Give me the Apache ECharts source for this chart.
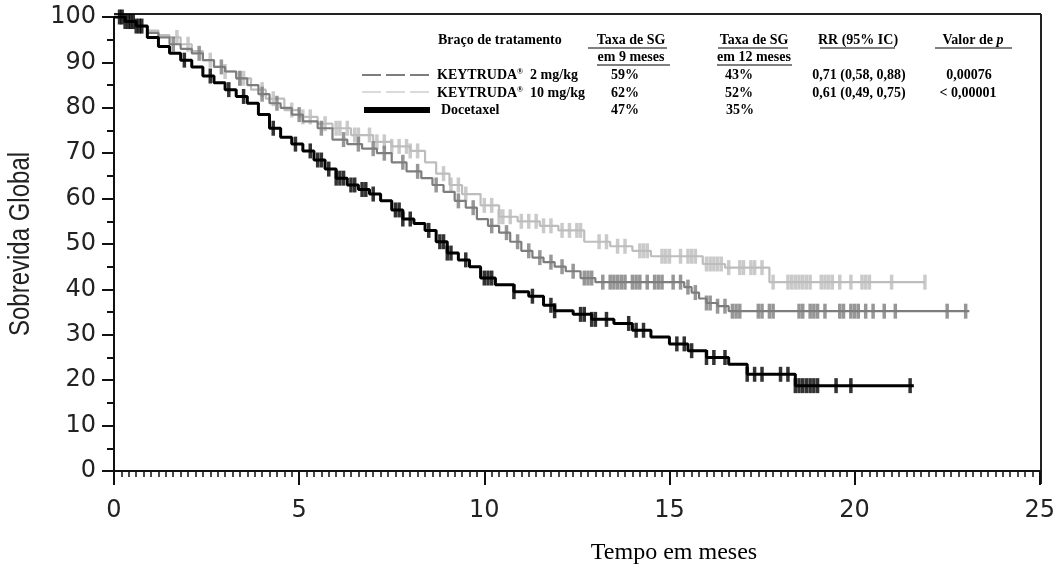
<!DOCTYPE html>
<html><head><meta charset="utf-8">
<script src="https://cdn.jsdelivr.net/npm/echarts/dist/echarts.min.js"></script>
<style>html,body{margin:0;padding:0;background:#fff}#c{width:1058px;height:572px}</style>
</head><body><div id="c"></div>
<script>
// ---------- data ----------
const xTickValues = [0, 5, 10, 15, 20, 25];
const yTickValues = [0, 10, 20, 30, 40, 50, 60, 70, 80, 90, 100];
const xTitle = 'Tempo em meses';
const yTitle = 'Sobrevida Global';

// Docetaxel
const docTimes = [0, 0.3, 0.6, 0.9, 1.2, 1.5, 1.8, 2.1, 2.4, 2.7, 3.0, 3.3, 3.6, 3.9, 4.2, 4.5, 4.8, 5.1, 5.4, 5.7, 6.0, 6.3, 6.6, 6.9, 7.2, 7.5, 7.8, 8.1, 8.4, 8.7, 9.0, 9.3, 9.6, 9.9, 10.3, 10.8, 11.2, 11.6, 11.9, 12.4, 12.9, 13.5, 14.0, 14.5, 15.0, 15.5, 16.0, 16.6, 17.1, 18.4, 21.6];
const docSurv  = [100, 99, 98, 95.5, 93.5, 92, 90.5, 89, 87, 85.5, 84, 82.5, 81, 78.5, 75.5, 73.5, 72, 70.5, 68.5, 66.5, 64.5, 63, 62, 61, 59.5, 57.5, 55.5, 54.5, 53, 50.5, 48, 46.5, 45, 42.5, 41, 39.5, 38.5, 36.5, 35.3, 34.5, 33.4, 32.5, 31, 29.5, 28, 26.5, 25, 23.5, 21.3, 18.8, 18.8];
const docCensor = [0.15, 0.22, 0.3, 0.38, 0.45, 0.52, 0.6, 0.68, 0.75, 1.9, 2.6, 3.1, 3.5, 4.3, 4.9, 5.3, 5.5, 5.6, 5.8, 6.0, 6.1, 6.2, 6.4, 6.5, 6.7, 6.8, 7.0, 7.6, 7.7, 7.8, 8.0, 8.5, 8.8, 8.9, 9.0, 9.1, 9.5, 10.0, 10.1, 10.2, 10.8, 11.3, 11.8, 11.9, 12.6, 12.7, 12.9, 13.0, 13.3, 13.9, 14.1, 14.3, 15.2, 15.4, 15.6, 16.0, 16.2, 16.5, 17.1, 17.3, 17.5, 18.0, 18.2, 18.4, 18.5, 18.6, 18.7, 18.8, 18.9, 19.0, 19.5, 19.9, 21.5];

// KEYTRUDA 2 mg/kg
const p2Times = [0, 0.3, 0.6, 0.9, 1.2, 1.5, 1.8, 2.1, 2.4, 2.7, 3.0, 3.3, 3.6, 3.9, 4.2, 4.5, 4.8, 5.1, 5.5, 5.9, 6.3, 6.7, 7.1, 7.5, 7.9, 8.3, 8.6, 8.9, 9.2, 9.5, 9.8, 10.1, 10.4, 10.7, 11.0, 11.3, 11.6, 11.9, 12.2, 12.6, 13.0, 15.4, 15.6, 15.8, 16.0, 16.3, 16.6, 23.1];
const p2Surv  = [100, 99, 98, 96.5, 95.5, 94, 93, 92, 90.5, 89, 88, 86.5, 85, 83, 81, 80, 78.5, 77, 75.5, 73, 72, 71, 70, 68, 66, 64.5, 63, 61.5, 59.5, 58, 55.5, 54, 52.5, 50.5, 48.5, 47, 46, 45, 44, 42.5, 41.6, 40.5, 39.3, 38, 37, 36.3, 35.2, 35.2];
const p2Censor = [1.6, 2.3, 2.9, 3.4, 4.0, 4.4, 5.0, 5.6, 6.2, 6.6, 7.0, 7.3, 7.8, 8.2, 8.7, 9.3, 9.7, 10.2, 10.6, 10.9, 11.2, 11.5, 11.8, 12.1, 12.4, 12.7, 12.8, 12.9, 13.2, 13.4, 13.5, 13.6, 13.7, 13.8, 14.0, 14.1, 14.2, 14.4, 14.6, 14.7, 14.8, 15.1, 15.3, 15.5, 15.7, 16.0, 16.1, 16.3, 16.5, 16.7, 16.8, 16.9, 17.4, 17.5, 17.7, 17.8, 18.5, 18.6, 18.8, 18.9, 19.0, 19.2, 19.6, 19.7, 19.9, 20.0, 20.1, 20.3, 20.5, 20.8, 21.1, 22.5, 23.0];

// KEYTRUDA 10 mg/kg
const p10Times = [0, 0.3, 0.6, 0.9, 1.2, 1.5, 1.8, 2.1, 2.4, 2.7, 3.0, 3.3, 3.7, 4.1, 4.6, 5.0, 5.5, 5.9, 6.4, 7.0, 7.5, 8.0, 8.4, 8.7, 9.06, 9.4, 9.9, 10.4, 10.9, 11.5, 12.0, 12.7, 13.4, 14.0, 14.5, 15.9, 16.5, 17.7, 21.9];
const p10Surv  = [100, 99, 98, 97, 96, 95.5, 94, 92.5, 90.5, 89, 88, 86.5, 84, 82, 79.5, 78, 76.5, 75.5, 74, 72.5, 71.5, 70.5, 68, 65.5, 63, 61, 58.5, 56, 55, 54, 53, 50.5, 49.5, 48.5, 47.3, 45.6, 44.8, 41.6, 41.6];
const p10Censor = [1.7, 2.0, 2.6, 3.0, 3.4, 3.5, 4.0, 4.3, 4.8, 5.1, 5.3, 5.7, 6.0, 6.1, 6.3, 6.5, 6.6, 6.9, 7.1, 7.3, 7.5, 7.7, 7.9, 8.0, 8.2, 8.9, 9.1, 9.3, 9.5, 10.0, 10.2, 10.4, 10.5, 10.7, 11.0, 11.2, 11.4, 11.6, 11.8, 12.1, 12.3, 12.5, 12.6, 13.1, 13.3, 13.6, 13.8, 14.2, 14.3, 14.4, 14.8, 14.9, 15.0, 15.3, 15.5, 15.6, 15.7, 16.0, 16.1, 16.2, 16.3, 16.4, 16.6, 16.9, 17.0, 17.2, 17.3, 17.5, 17.8, 18.2, 18.3, 18.4, 18.5, 18.6, 18.7, 18.8, 19.1, 19.2, 19.3, 19.4, 19.6, 19.9, 20.2, 20.3, 20.4, 21.0, 21.9];

// legend table
const tableHeader1 = ['Braço de tratamento', 'Taxa de SG', 'Taxa de SG', 'RR (95% IC)', 'Valor de '];
const tableHeader2 = ['em 9 meses', 'em 12 meses'];
const armNames = ['KEYTRUDA{s|®}  2 mg/kg', 'KEYTRUDA{s|®}  10 mg/kg', 'Docetaxel'];
const os9 = ['59%', '62%', '47%'];
const os12 = ['43%', '52%', '35%'];
const hrCI = ['0,71 (0,58, 0,88)', '0,61 (0,49, 0,75)', ''];
const pValues = ['0,00076', '< 0,00001', ''];

// ---------- helpers ----------
function stepPairs(times, surv) { return times.map((t, i) => [t, surv[i]]); }
function survAt(times, surv, t) {
  let v = surv[0];
  for (let i = 0; i < times.length; i++) { if (times[i] <= t) v = surv[i]; else break; }
  return v;
}
function censorPairs(times, surv, cens) { return cens.map(t => [t, survAt(times, surv, t)]); }

const cLight = '#bdbdbd', cMid = '#7d7d7d', cBlack = '#000000';

// ---------- graphic (table, titles, frame) ----------
const serif = 'Liberation Serif';
function T(x, y, text, align) {
  return {
    type: 'text', x: x, y: y, silent: true,
    style: { text: text, fontFamily: serif, fontWeight: 'bold', fontSize: 14, fill: '#000', align: align || 'left', verticalAlign: 'middle',
      rich: {
        s: { fontFamily: serif, fontWeight: 'bold', fontSize: 8, verticalAlign: 'top', padding: [0, 0, 6, 0] },
        i: { fontFamily: serif, fontWeight: 'bold', fontStyle: 'italic', fontSize: 14 }
      } }
  };
}
function L(x1, y1, x2, y2, stroke, w, dash) {
  return { type: 'line', silent: true, shape: { x1: x1, y1: y1, x2: x2, y2: y2 }, style: { stroke: stroke, lineWidth: w, lineDash: dash || null } };
}
const rowY = [75, 93, 110];
const graphic = [];
graphic.push(T(438, 40, tableHeader1[0], 'left'));
graphic.push(T(631, 40, tableHeader1[1], 'center'));
graphic.push(T(754, 40, tableHeader1[2], 'center'));
graphic.push(T(858, 40, tableHeader1[3], 'center'));
graphic.push(T(973, 40, tableHeader1[4] + '{i|p}', 'center'));
graphic.push(T(631, 57, tableHeader2[0], 'center'));
graphic.push(T(754, 57, tableHeader2[1], 'center'));
// underlines
graphic.push(L(588, 48, 667, 48, '#000', 1));
graphic.push(L(597, 65, 670, 65, '#000', 1));
graphic.push(L(718, 48, 788, 48, '#000', 1));
graphic.push(L(717, 65, 792, 65, '#000', 1));
graphic.push(L(820, 48, 895, 48, '#000', 1));
graphic.push(L(935, 48, 1012, 48, '#000', 1));
for (let r = 0; r < 3; r++) {
  graphic.push(T(r === 2 ? 441 : 437, rowY[r], armNames[r], 'left'));
  graphic.push(T(625, rowY[r], os9[r], 'center'));
  graphic.push(T(r === 2 ? 740 : 739, rowY[r], os12[r], 'center'));
  if (hrCI[r]) graphic.push(T(859, rowY[r], hrCI[r], 'center'));
  if (pValues[r]) graphic.push(T(r === 1 ? 968 : 969, rowY[r], pValues[r], 'center'));
}
graphic.push(L(362, 75, 430, 75, cMid, 2.2, [19, 5]));
graphic.push(L(362, 92, 430, 92, '#cfcfcf', 1.6, [19, 5]));
graphic.push(L(364, 110, 430, 110, cBlack, 6));
// titles
graphic.push({ type: 'text', x: 674, y: 553, silent: true,
  style: { text: xTitle, fontFamily: serif, fontSize: 24, fill: '#000', align: 'center', verticalAlign: 'middle' } });
graphic.push({ type: 'text', x: 21, y: 244, rotation: Math.PI / 2, scaleY: 1.2, silent: true,
  style: { text: yTitle, fontFamily: 'Liberation Sans', fontSize: 24, fill: '#222', align: 'center', verticalAlign: 'middle' } });
// frame top & right, axis extension
graphic.push(L(114, 14, 1041, 14, '#222', 2));
graphic.push(L(1041, 14, 1041, 484, '#222', 2));
graphic.push(L(114, 470, 114, 484, '#111', 2));

// ---------- chart ----------
const chart = echarts.init(document.getElementById('c'));
const censorSeries = (name, times, surv, cens, color, z) => ({
  name: name + ' censor', type: 'scatter', data: censorPairs(times, surv, cens), symbol: 'rect', symbolSize: [3.5, 15],
  itemStyle: { color: color }, silent: true, z: z
});
const stepSeries = (name, times, surv, color, w, z) => ({
  name: name, type: 'line', step: 'end', data: stepPairs(times, surv), showSymbol: false, symbol: 'none',
  lineStyle: { color: color, width: w }, silent: true, z: z
});
chart.setOption({
  animation: false,
  backgroundColor: '#fff',
  grid: { left: 114, right: 17, top: 17, bottom: 101, containLabel: false },
  xAxis: {
    type: 'value', min: xTickValues[0], max: xTickValues[xTickValues.length - 1], interval: 5,
    axisLine: { onZero: false, lineStyle: { color: '#111', width: 2 } },
    axisTick: { show: true, inside: false, length: 14, lineStyle: { color: '#111', width: 2 } },
    minorTick: { show: true, splitNumber: 25, length: 6, lineStyle: { color: '#111', width: 1.5 } },
    axisLabel: { fontFamily: 'DejaVu Sans', fontSize: 24, color: '#222', margin: 28 },
    splitLine: { show: false }, minorSplitLine: { show: false }
  },
  yAxis: {
    type: 'value', min: yTickValues[0], max: yTickValues[yTickValues.length - 1], interval: 10,
    axisLine: { show: true, onZero: false, lineStyle: { color: '#111', width: 2 } },
    axisTick: { show: true, inside: false, length: 12, lineStyle: { color: '#111', width: 2 } },
    minorTick: { show: true, splitNumber: 2, length: 7, lineStyle: { color: '#111', width: 2 } },
    axisLabel: { fontFamily: 'DejaVu Sans', fontSize: 24, color: '#222', margin: 18 },
    splitLine: { show: false }
  },
  graphic: graphic,
  series: [
    stepSeries('KEYTRUDA 10 mg/kg', p10Times, p10Surv, cLight, 2.2, 2),
    censorSeries('KEYTRUDA 10 mg/kg', p10Times, p10Surv, p10Censor, cLight, 2),
    stepSeries('KEYTRUDA 2 mg/kg', p2Times, p2Surv, cMid, 2.2, 3),
    censorSeries('KEYTRUDA 2 mg/kg', p2Times, p2Surv, p2Censor, cMid, 3),
    stepSeries('Docetaxel', docTimes, docSurv, cBlack, 3, 4),
    censorSeries('Docetaxel', docTimes, docSurv, docCensor, cBlack, 4)
  ]
});
</script></body></html>
